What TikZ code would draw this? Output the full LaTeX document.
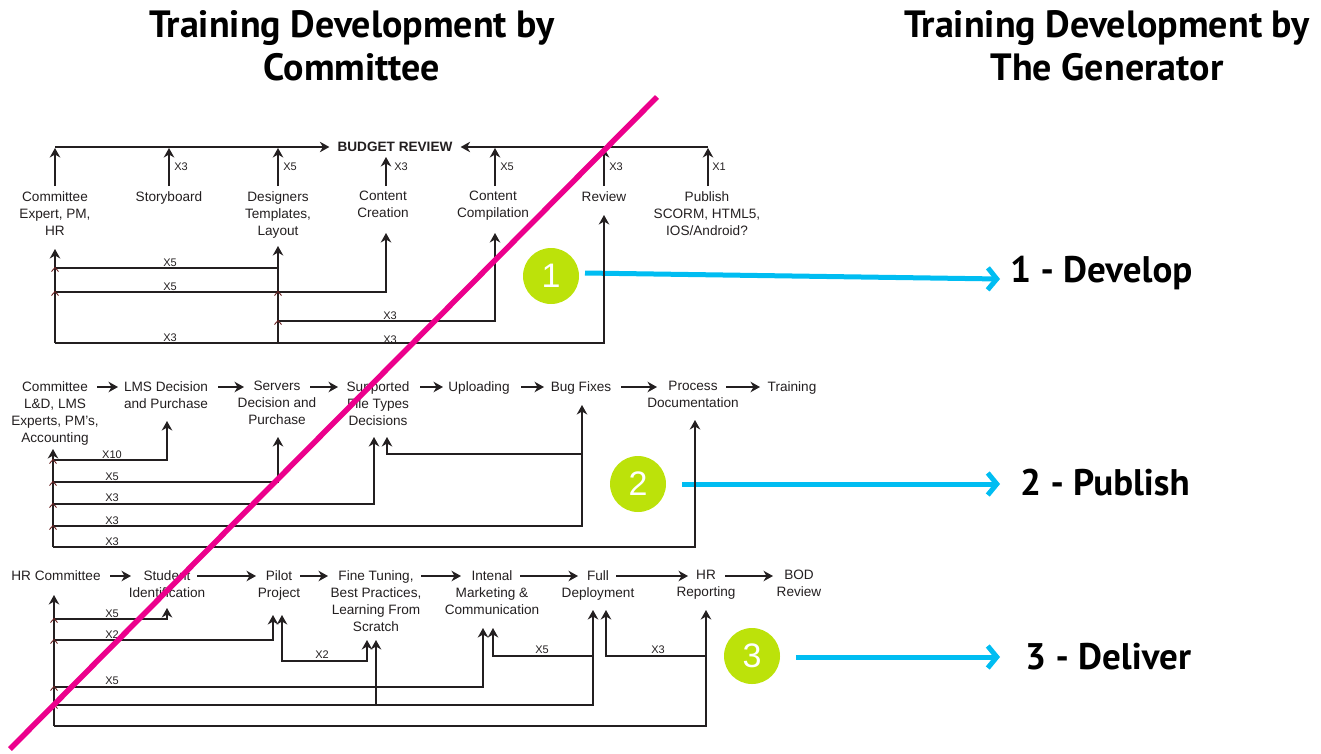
\documentclass[tikz,border=0pt]{standalone}
\usepackage{fontspec}
\setmainfont{Liberation Sans}
\newfontfamily\titlefont{PT Sans}
\usetikzlibrary{arrows.meta}
\definecolor{ink}{HTML}{231F20}
\definecolor{jcol}{HTML}{6A2222}
\definecolor{slash}{HTML}{EC008C}
\definecolor{lime}{HTML}{BCE20A}
\definecolor{sky}{HTML}{00BDF2}
\newcommand\jmark[2]{\draw[jm] (#1-3.5,#2+3.5) -- (#1,#2-0.5) -- (#1+3.5,#2+3.5);}
\begin{document}
\begin{tikzpicture}[x=1pt,y=-1pt,
  lbl/.style={font=\fontsize{13.6}{17}\selectfont, align=center, anchor=north, inner sep=0pt, text=ink},
  xl/.style={font=\fontsize{11}{13}\selectfont, inner sep=0pt, text=ink},
  flow/.style={draw=ink, line width=1.3pt, -{Stealth[length=9.5pt,width=10.5pt,inset=3pt]}},
  flowboth/.style={draw=ink, line width=1.3pt, {Stealth[length=9.5pt,width=10.5pt,inset=3pt]}-{Stealth[length=9.5pt,width=10.5pt,inset=3pt]}},
  ln/.style={draw=ink, line width=1.3pt},
  jm/.style={draw=jcol, line width=0.9pt},
  ttl/.style={font=\titlefont\bfseries\fontsize{38}{43}\selectfont, align=center, anchor=north, inner sep=0pt},
  stage/.style={font=\titlefont\bfseries\fontsize{37}{43}\selectfont, anchor=west, inner sep=0pt},
  num/.style={circle, fill=lime, minimum size=56pt, inner sep=0pt, text=white, font=\fontsize{34}{40}\selectfont},
  blue/.style={draw=sky, line width=5pt, -{Straight Barb[length=9pt,width=22pt]}}
]
\useasboundingbox (0,0) rectangle (1321,753);

% titles
\node[ttl] (t1) at (352,10) {Training Development by\\Committee};
\node[ttl] (t2) at (1107,10) {Training Development by\\The Generator};

% circles and stage labels
\node[num] (n1) at (551,276) {1};
\node[num] (n2) at (638,484) {2};
\node[num] (n3) at (752,656) {3};
\node[stage] (s1) at (1010,273) {1 - Develop};
\node[stage] (s2) at (1020,483) {2 - Publish};
\node[stage] (s3) at (1025,657) {3 - Deliver};
\draw[blue] (585,273) -- ([xshift=-10pt]s1.west |- 0,279);
\draw[blue] (682,484) -- ([xshift=-20pt]s2.west |- 0,484);
\draw[blue] (796,657) -- ([xshift=-25pt]s3.west |- 0,657);

% ---------- section 1 ----------
\node[lbl] (c1) at (55,191) {Committee\\Expert, PM,\\HR};
\node[lbl] (c2) at (169,191) {Storyboard};
\node[lbl] (c3) at (278,191) {Designers\\Templates,\\Layout};
\node[lbl] (c4) at (383,191) {Content\\Creation};
\node[lbl] (c5) at (493,191) {Content\\Compilation};
\node[lbl] (c6) at (604,191) {Review};
\node[lbl] (c7) at (707,191) {Publish\\SCORM, HTML5,\\IOS/Android?};
\node[font=\bfseries\fontsize{13.6}{16}\selectfont, inner sep=0pt, text=ink] (bud) at (395,147) {BUDGET REVIEW};

\draw[flow] (55,147) -- ([xshift=-8pt]bud.west);
\draw[flow] (708,147) -- ([xshift=8pt]bud.east);
\draw[flow] (55,186) -- (55,148);
\draw[flow] (169,186) -- (169,148);
\draw[flow] (278,186) -- (278,148);
\draw[flow] (386,186) -- (386,157);
\draw[flow] (495,186) -- (495,148);
\draw[flow] (604,186) -- (604,148);
\draw[flow] (708,186) -- (708,148);
\node[xl] at (181,167) {X3};
\node[xl] at (290,167) {X5};
\node[xl] at (401,167) {X3};
\node[xl] at (507,167) {X5};
\node[xl] at (616,167) {X3};
\node[xl] at (719,167) {X1};

\draw[flow] (55,343) -- (55,249);
\draw[flow] (278,343) -- (278,246);
\draw[ln] (278,268) -- (55,268);
\draw[flow] (55,292) -| (386,233);
\draw[flow] (278,321) -| (495,233);
\draw[flow] (55,343) -| (604,215);
\jmark{55}{268}\jmark{55}{292}\jmark{278}{292}\jmark{278}{321}
\node[xl] at (170,263) {X5};
\node[xl] at (170,287) {X5};
\node[xl] at (390,316) {X3};
\node[xl] at (170,338) {X3};
\node[xl] at (390,340) {X3};

% ---------- section 2 ----------
\node[lbl] (m1) at (55,381) {Committee\\L\&D, LMS\\Experts, PM's,\\Accounting};
\node[lbl] (m2) at (166,381) {LMS Decision\\and Purchase};
\node[lbl] (m3) at (277,381) {Servers\\Decision and\\Purchase};
\node[lbl] (m4) at (378,381) {Supported\\File Types\\Decisions};
\node[lbl] (m5) at (479,381) {Uploading};
\node[lbl] (m6) at (581,381) {Bug Fixes};
\node[lbl] (m7) at (693,381) {Process\\Documentation};
\node[lbl] (m8) at (792,381) {Training};
\draw[flow] (97,387) -- (118,387);
\draw[flow] (218,387) -- (244,387);
\draw[flow] (310,387) -- (338,387);
\draw[flow] (420,387) -- (443,387);
\draw[flow] (521,387) -- (544,387);
\draw[flow] (621,387) -- (657,387);
\draw[flow] (726,387) -- (760,387);

\draw[flow] (53,547) -- (53,449);
\draw[flow] (53,460) -| (167,421);
\draw[flow] (53,482) -| (278,437);
\draw[flow] (53,504) -| (374,437);
\draw[flow] (53,526) -| (582,405);
\draw[flow] (53,547) -| (695,420);
\draw[flow] (582,454) -| (387,437);
\jmark{53}{460}\jmark{53}{482}\jmark{53}{504}\jmark{53}{526}
\node[xl] at (112,455) {X10};
\node[xl] at (112,477) {X5};
\node[xl] at (112,498) {X3};
\node[xl] at (112,521) {X3};
\node[xl] at (112,542) {X3};

% ---------- section 3 ----------
\node[lbl] (b1) at (56,570) {HR Committee};
\node[lbl] (b2) at (167,570) {Student\\Identification};
\node[lbl] (b3) at (279,570) {Pilot\\Project};
\node[lbl] (b4) at (376,570) {Fine Tuning,\\Best Practices,\\Learning From\\Scratch};
\node[lbl] (b5) at (492,570) {Intenal\\Marketing \&\\Communication};
\node[lbl] (b6) at (598,570) {Full\\Deployment};
\node[lbl] (b7) at (706,570) {HR\\Reporting};
\node[lbl] (b8) at (799,570) {BOD\\Review};
\draw[flow] (110,576) -- (131,576);
\draw[flow] (197,576) -- (256,576);
\draw[flow] (300,576) -- (328,576);
\draw[flow] (421,576) -- (461,576);
\draw[flow] (520,576) -- (578,576);
\draw[flow] (616,576) -- (688,576);
\draw[flow] (725,576) -- (773,576);

\draw[flow] (54,726) -- (54,595);
\draw[flow] (54,619) -| (167,608);
\draw[flow] (54,640) -| (273,615);
\draw[flowboth] (282,615) |- (367,661) -- (367,640);
\draw[flow] (54,687) -| (483,628);
\draw[flow] (54,705) -| (593,610);
\draw[flow] (376,705) -- (376,640);
\draw[flow] (54,726) -| (706,610);
\draw[flow] (593,656) -| (493,628);
\draw[flow] (706,656) -| (606,610);
\jmark{54}{619}\jmark{54}{640}\jmark{54}{687}\jmark{54}{705}
\node[xl] at (112,614) {X5};
\node[xl] at (112,635) {X2};
\node[xl] at (322,655) {X2};
\node[xl] at (112,681) {X5};
\node[xl] at (542,650) {X5};
\node[xl] at (658,650) {X3};

% diagonal slash
\coordinate (sa) at (657,97);
\coordinate (sb) at (10,749);
\draw[draw=slash, line width=5.5pt] (sa) -- (sb);
\end{tikzpicture}
\end{document}
